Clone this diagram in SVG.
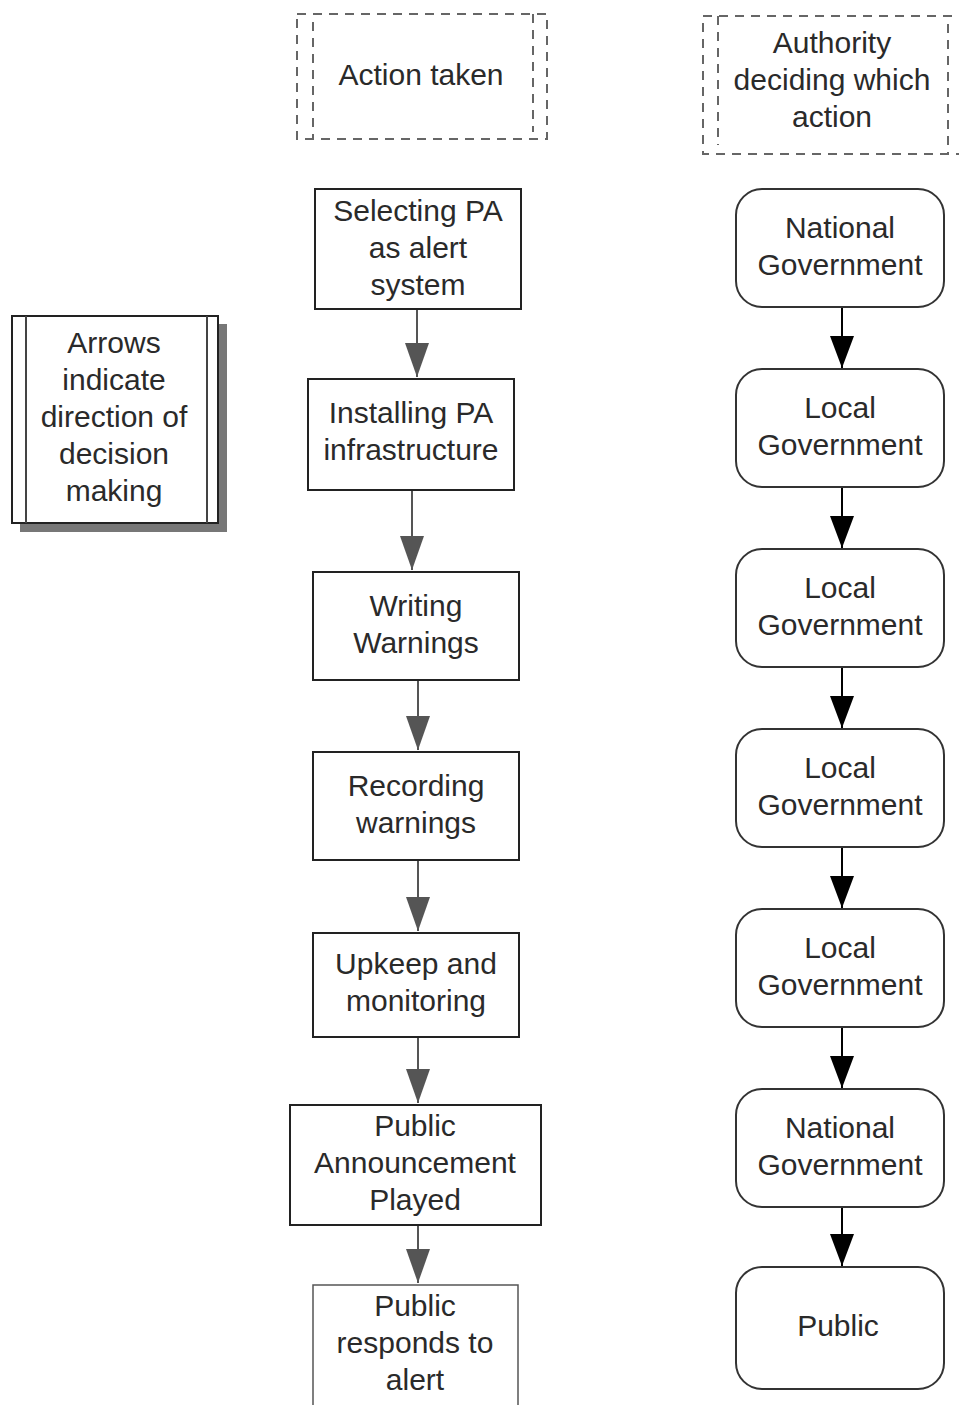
<svg xmlns="http://www.w3.org/2000/svg" width="959" height="1405" viewBox="0 0 959 1405">
<style>
text{font-family:"Liberation Sans",Arial,sans-serif;font-size:30px;fill:#2a2a2a;text-anchor:middle}
.box{fill:#fff;stroke:#222;stroke-width:2}
.rbox{fill:#fff;stroke:#333;stroke-width:2}
.dash{fill:none;stroke:#666;stroke-width:2;stroke-dasharray:9 7}
.gl{stroke:#555;stroke-width:2;fill:none}
.bl{stroke:#000;stroke-width:2;fill:none}
</style>
<defs>
<marker id="ag" viewBox="0 0 34 24" refX="34" refY="12" markerWidth="34" markerHeight="24" markerUnits="userSpaceOnUse" orient="auto"><path d="M0,0 L34,12 L0,24 Z" fill="#555"/></marker>
<marker id="ab" viewBox="0 0 32 24" refX="32" refY="12" markerWidth="32" markerHeight="24" markerUnits="userSpaceOnUse" orient="auto"><path d="M0,0 L32,12 L0,24 Z" fill="#000"/></marker>
</defs>
<rect width="959" height="1405" fill="#fff"/>
<g id="header-action">
<rect class="dash" x="297" y="14" width="250" height="125"/>
<line class="dash" x1="313" y1="22" x2="313" y2="139"/>
<line class="dash" x1="533" y1="14" x2="533" y2="132"/>
<text x="421" y="85">Action taken</text>
</g>
<g id="header-authority">
<rect class="dash" x="703" y="16" width="262" height="138"/>
<line class="dash" x1="718" y1="16" x2="718" y2="145"/>
<line class="dash" x1="948" y1="24" x2="948" y2="154"/>
<text x="832" y="53">Authority</text>
<text x="832" y="90">deciding which</text>
<text x="832" y="127">action</text>
</g>
<g id="legend">
<rect x="20" y="324" width="207" height="208" fill="#777"/>
<rect class="box" x="12" y="316" width="206" height="207" stroke="#444"/>
<line x1="26" y1="316" x2="26" y2="523" stroke="#444" stroke-width="2"/>
<line x1="207" y1="316" x2="207" y2="523" stroke="#444" stroke-width="2"/>
<text x="114" y="353">Arrows</text>
<text x="114" y="390">indicate</text>
<text x="114" y="427">direction of</text>
<text x="114" y="464">decision</text>
<text x="114" y="501">making</text>
</g>
<g id="connectors">
<line class="gl" x1="417" y1="309" x2="417" y2="377" marker-end="url(#ag)"/>
<line class="gl" x1="412" y1="490" x2="412" y2="570" marker-end="url(#ag)"/>
<line class="gl" x1="418" y1="680" x2="418" y2="750" marker-end="url(#ag)"/>
<line class="gl" x1="418" y1="860" x2="418" y2="931" marker-end="url(#ag)"/>
<line class="gl" x1="418" y1="1037" x2="418" y2="1103" marker-end="url(#ag)"/>
<line class="gl" x1="418" y1="1225" x2="418" y2="1283" marker-end="url(#ag)"/>
<line class="bl" x1="842" y1="307" x2="842" y2="368" marker-end="url(#ab)"/>
<line class="bl" x1="842" y1="487" x2="842" y2="548" marker-end="url(#ab)"/>
<line class="bl" x1="842" y1="667" x2="842" y2="728" marker-end="url(#ab)"/>
<line class="bl" x1="842" y1="847" x2="842" y2="908" marker-end="url(#ab)"/>
<line class="bl" x1="842" y1="1027" x2="842" y2="1088" marker-end="url(#ab)"/>
<line class="bl" x1="842" y1="1207" x2="842" y2="1266" marker-end="url(#ab)"/>
</g>
<g id="a1"><rect class="box" x="315" y="189" width="206" height="120"/>
<text x="418" y="221">Selecting PA</text><text x="418" y="258">as alert</text><text x="418" y="295">system</text></g>
<g id="a2"><rect class="box" x="308" y="379" width="206" height="111"/>
<text x="411" y="423">Installing PA</text><text x="411" y="460">infrastructure</text></g>
<g id="a3"><rect class="box" x="313" y="572" width="206" height="108"/>
<text x="416" y="616">Writing</text><text x="416" y="653">Warnings</text></g>
<g id="a4"><rect class="box" x="313" y="752" width="206" height="108"/>
<text x="416" y="796">Recording</text><text x="416" y="833">warnings</text></g>
<g id="a5"><rect class="box" x="313" y="933" width="206" height="104"/>
<text x="416" y="974">Upkeep and</text><text x="416" y="1011">monitoring</text></g>
<g id="a6"><rect class="box" x="290" y="1105" width="251" height="120"/>
<text x="415" y="1136">Public</text><text x="415" y="1173">Announcement</text><text x="415" y="1210">Played</text></g>
<g id="a7"><rect x="313" y="1285" width="205" height="140" fill="#fff" stroke="#555" stroke-width="1.5"/>
<text x="415" y="1316">Public</text><text x="415" y="1353">responds to</text><text x="415" y="1390">alert</text></g>
<g id="r1"><rect class="rbox" x="736" y="189" width="208" height="118" rx="26"/>
<text x="840" y="238">National</text><text x="840" y="275">Government</text></g>
<g id="r2"><rect class="rbox" x="736" y="369" width="208" height="118" rx="26"/>
<text x="840" y="418">Local</text><text x="840" y="455">Government</text></g>
<g id="r3"><rect class="rbox" x="736" y="549" width="208" height="118" rx="26"/>
<text x="840" y="598">Local</text><text x="840" y="635">Government</text></g>
<g id="r4"><rect class="rbox" x="736" y="729" width="208" height="118" rx="26"/>
<text x="840" y="778">Local</text><text x="840" y="815">Government</text></g>
<g id="r5"><rect class="rbox" x="736" y="909" width="208" height="118" rx="26"/>
<text x="840" y="958">Local</text><text x="840" y="995">Government</text></g>
<g id="r6"><rect class="rbox" x="736" y="1089" width="208" height="118" rx="26"/>
<text x="840" y="1138">National</text><text x="840" y="1175">Government</text></g>
<g id="r7"><rect class="rbox" x="736" y="1267" width="208" height="122" rx="26"/>
<text x="838" y="1336">Public</text></g>
</svg>
